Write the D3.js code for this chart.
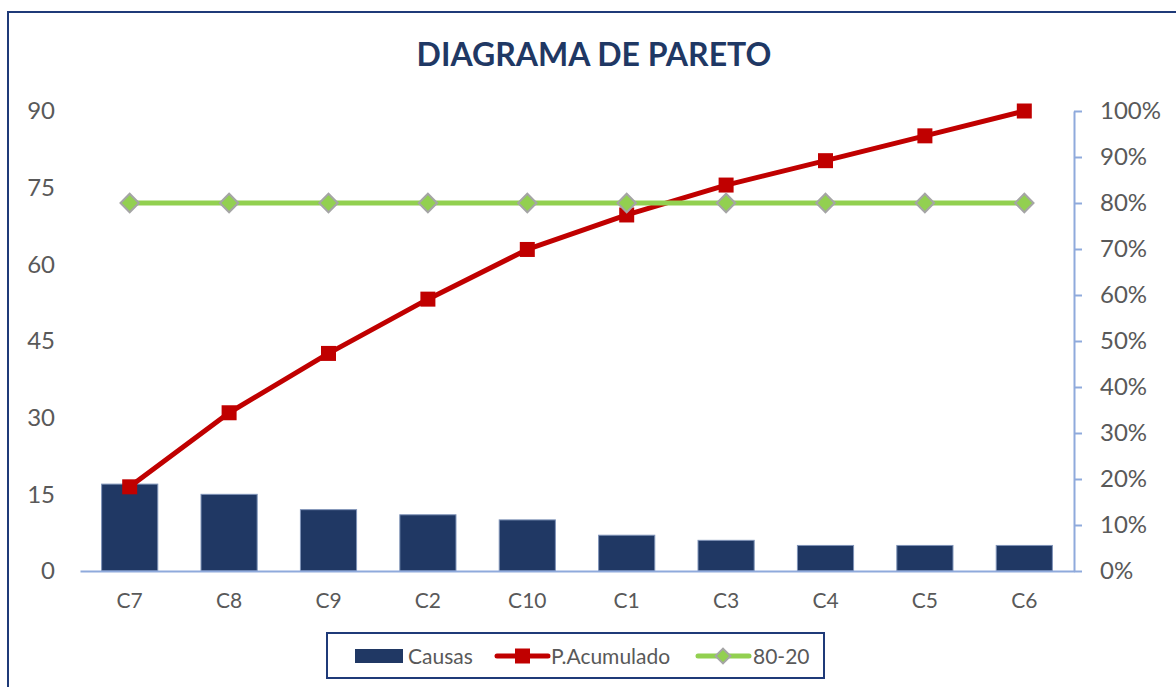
<!DOCTYPE html>
<html><head><meta charset="utf-8">
<script src="https://cdn.jsdelivr.net/npm/d3@7"></script>
<style>body{margin:0;background:#fff;}svg{display:block;}</style>
</head><body>
<svg id="c" width="1176" height="687"></svg>
<script>
const categories = ["C7","C8","C9","C2","C10","C1","C3","C4","C5","C6"];
const causas = [17,15,12,11,10,7,6,5,5,5];
const acumulado = [0.183,0.344,0.473,0.591,0.699,0.774,0.839,0.892,0.946,1.0];
const ochenta = [0.8,0.8,0.8,0.8,0.8,0.8,0.8,0.8,0.8,0.8];
const leftTicks = [0,15,30,45,60,75,90];
const rightTicks = [0,0.1,0.2,0.3,0.4,0.5,0.6,0.7,0.8,0.9,1.0];
const title = "DIAGRAMA DE PARETO";
const legendLabels = ["Causas","P.Acumulado","80-20"];

const svg = d3.select("#c");
const font = "Lato, 'Open Sans', sans-serif";
const navy = "#203864", red = "#C00000", green = "#92D050", axisCol = "#8FAADC", txt = "#595959";

// border
svg.append("rect").attr("x",8).attr("y",12).attr("width",1200).attr("height",700)
  .attr("fill","none").attr("stroke","#1F3A78").attr("stroke-width",2);

const x = d3.scaleBand().domain(categories).range([80,1074]).paddingInner(0.435).paddingOuter(0.2175);
const y = d3.scaleLinear().domain([0,90]).range([571,111]);
const y2 = d3.scaleLinear().domain([0,1]).range([571,111]);

svg.append("text").attr("x",594).attr("y",66).attr("text-anchor","middle")
  .attr("font-family",font).attr("font-weight","bold").attr("font-size",32).attr("fill","#1F3864").text(title);

// left axis labels
const ga = svg.append("g").attr("transform","translate(55,0)")
  .call(d3.axisLeft(y).tickValues(leftTicks).tickSize(0).tickPadding(0));
ga.select(".domain").remove();
ga.selectAll("text").attr("font-family",font).attr("font-size",24).attr("fill",txt);

// right axis
const gr = svg.append("g").attr("transform","translate(1074,0)")
  .call(d3.axisRight(y2).tickValues(rightTicks).tickFormat(d3.format(".0%")).tickSize(8).tickSizeOuter(0).tickPadding(18));
gr.select(".domain").attr("stroke",axisCol).attr("stroke-width",2);
gr.selectAll("line").attr("stroke",axisCol).attr("stroke-width",2);
gr.selectAll("text").attr("font-family",font).attr("font-size",24).attr("fill",txt);

// bars
svg.append("g").selectAll("rect").data(causas).join("rect")
  .attr("x",(d,i)=>x(categories[i])).attr("width",x.bandwidth())
  .attr("y",d=>y(d)).attr("height",d=>y(0)-y(d))
  .attr("fill",navy).attr("stroke","#7f93b8").attr("stroke-width",1);

// x axis
const gx = svg.append("g").attr("transform","translate(0,571)")
  .call(d3.axisBottom(x).tickSize(0).tickPadding(22));
gx.select(".domain").attr("stroke",axisCol).attr("stroke-width",2);
gx.selectAll("text").attr("font-family",font).attr("font-size",21).attr("fill",txt);

const cx = (i)=>x(categories[i])+x.bandwidth()/2;

// cumulative line
svg.append("path").datum(acumulado)
  .attr("d",d3.line().x((d,i)=>cx(i)).y(d=>y2(d)))
  .attr("fill","none").attr("stroke",red).attr("stroke-width",5).attr("stroke-linejoin","round");
svg.append("g").selectAll("rect").data(acumulado).join("rect")
  .attr("x",(d,i)=>cx(i)-7.5).attr("y",d=>y2(d)-7.5).attr("width",15).attr("height",15).attr("fill",red);

// 80-20 line
svg.append("path").datum(ochenta)
  .attr("d",d3.line().x((d,i)=>cx(i)).y(d=>y2(d)))
  .attr("fill","none").attr("stroke",green).attr("stroke-width",5);
svg.append("g").selectAll("path").data(ochenta).join("path")
  .attr("transform",(d,i)=>`translate(${cx(i)},${y2(d)}) rotate(45)`)
  .attr("d",d3.symbol().type(d3.symbolSquare).size(170))
  .attr("fill",green).attr("stroke","#A5A5A5").attr("stroke-width",2);

// legend
const lg = svg.append("g");
lg.append("rect").attr("x",327).attr("y",633).attr("width",497).attr("height",45)
  .attr("fill","#fff").attr("stroke","#1F3A78").attr("stroke-width",2);
lg.append("rect").attr("x",355).attr("y",649).attr("width",48).attr("height",14).attr("fill",navy);
lg.append("line").attr("x1",497).attr("x2",548).attr("y1",656).attr("y2",656)
  .attr("stroke",red).attr("stroke-width",5).attr("stroke-linecap","round");
lg.append("rect").attr("x",515).attr("y",648.5).attr("width",15).attr("height",15).attr("fill",red);
lg.append("line").attr("x1",698).attr("x2",749).attr("y1",656).attr("y2",656)
  .attr("stroke",green).attr("stroke-width",5).attr("stroke-linecap","round");
lg.append("path").attr("transform","translate(723,656) rotate(45)")
  .attr("d",d3.symbol().type(d3.symbolSquare).size(110))
  .attr("fill",green).attr("stroke","#A5A5A5").attr("stroke-width",2);
const lx = [408,551,753];
lg.selectAll("text").data(legendLabels).join("text")
  .attr("x",(d,i)=>lx[i]).attr("y",664).attr("font-family",font).attr("font-size",21).attr("fill",txt).text(d=>d);
</script>
</body></html>
